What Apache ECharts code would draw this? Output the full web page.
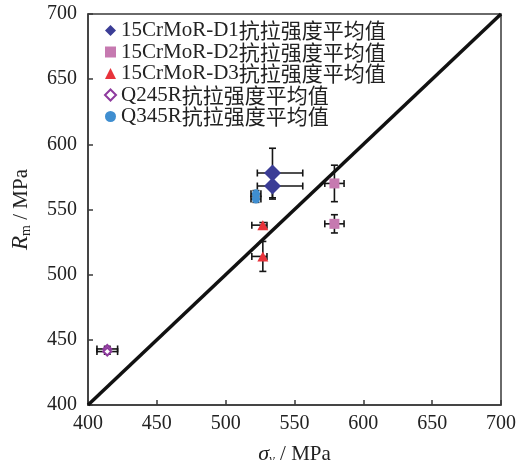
<!DOCTYPE html>
<html>
<head>
<meta charset="utf-8">
<script src="https://cdn.jsdelivr.net/npm/echarts@6/dist/echarts.min.js"></script>
<style>
html,body{margin:0;padding:0;background:#fff;}
#chart{width:518px;height:460px;}
</style>
</head>
<body>
<div id="chart"></div>
<script>
// ---- axis ----
const axisMin = 400, axisMax = 700, axisStep = 50;
const refLine = [[400, 400], [700, 700]];

// ---- series names ----
const names = [
  '15CrMoR-D1抗拉强度平均值',
  '15CrMoR-D2抗拉强度平均值',
  '15CrMoR-D3抗拉强度平均值',
  'Q245R抗拉强度平均值',
  'Q345R抗拉强度平均值'
];

// ---- data: [sigma_y, Rm] ----
const d1Points = [[534, 578], [534, 568]];
const d1XErrLo = [11, 11], d1XErrHi = [22, 22], d1YErrLo = [19, 10], d1YErrHi = [19, 10];

const d2Points = [[579, 570], [579, 539]];
const d2XErrLo = [7, 7], d2XErrHi = [7, 7], d2YErrLo = [14, 7], d2YErrHi = [14, 7];

const d3Points = [[527, 538], [527, 514]];
const d3XErrLo = [8, 8], d3XErrHi = [3, 3], d3YErrLo = [2, 11.5], d3YErrHi = [2, 11.5];

const q245Points = [[414, 443], [414, 441]];
const q245XErrLo = [7.5, 7.5], q245XErrHi = [7.5, 7.5], q245YErrLo = [2, 2], q245YErrHi = [2, 2];

const q345Points = [[522, 562], [522, 558]];
const q345XErrLo = [3.6, 3.6], q345XErrHi = [3.6, 3.6], q345YErrLo = [2.5, 2.5], q345YErrHi = [2.5, 2.5];

const groups = [
  {name: names[0], pts: d1Points, xl: d1XErrLo, xh: d1XErrHi, yl: d1YErrLo, yh: d1YErrHi,
   symbol: 'diamond', size: [17, 17], style: {color: '#3b3d96'}},
  {name: names[1], pts: d2Points, xl: d2XErrLo, xh: d2XErrHi, yl: d2YErrLo, yh: d2YErrHi,
   symbol: 'rect', size: [10, 10], style: {color: '#c679b0'}},
  {name: names[2], pts: d3Points, xl: d3XErrLo, xh: d3XErrHi, yl: d3YErrLo, yh: d3YErrHi,
   symbol: 'triangle', size: [11, 10], style: {color: '#e8333b'}},
  {name: names[3], pts: q245Points, xl: q245XErrLo, xh: q245XErrHi, yl: q245YErrLo, yh: q245YErrHi,
   symbol: 'diamond', size: [8, 8], style: {color: '#ffffff', borderColor: '#8e3a9e', borderWidth: 2}},
  {name: names[4], pts: q345Points, xl: q345XErrLo, xh: q345XErrHi, yl: q345YErrLo, yh: q345YErrHi,
   symbol: 'circle', size: [8, 9], style: {color: '#3f8ed0'}}
];

function errRender(params, api) {
  const x = api.value(0), y = api.value(1);
  const xl = api.value(2), xh = api.value(3), yl = api.value(4), yh = api.value(5);
  const c = api.coord([x, y]);
  const xL = api.coord([x - xl, y])[0];
  const xH = api.coord([x + xh, y])[0];
  const yT = api.coord([x, y + yh])[1];
  const yB = api.coord([x, y - yl])[1];
  const cap = 3.5;
  const st = {stroke: '#151515', lineWidth: 1.6};
  const L = (x1, y1, x2, y2) => ({type: 'line', shape: {x1, y1, x2, y2}, style: st});
  return {
    type: 'group',
    children: [
      L(xL, c[1], xH, c[1]),
      L(xL, c[1] - cap, xL, c[1] + cap),
      L(xH, c[1] - cap, xH, c[1] + cap),
      L(c[0], yT, c[0], yB),
      L(c[0] - cap, yT, c[0] + cap, yT),
      L(c[0] - cap, yB, c[0] + cap, yB)
    ]
  };
}

const series = [{
  type: 'line', name: 'ref', data: refLine, symbol: 'none', silent: true, z: 1,
  lineStyle: {color: '#111', width: 3.5}
}];
groups.forEach(g => {
  series.push({
    type: 'custom', name: g.name + '-err', renderItem: errRender, z: 2, silent: true,
    encode: {x: 0, y: 1},
    data: g.pts.map((p, i) => [p[0], p[1], g.xl[i], g.xh[i], g.yl[i], g.yh[i]])
  });
});
groups.forEach(g => {
  series.push({
    type: 'scatter', name: g.name, data: g.pts, symbol: g.symbol, symbolSize: g.size, z: 3,
    itemStyle: Object.assign({opacity: 1}, g.style)
  });
});

const legendIcons = ['diamond', 'rect', 'triangle', 'diamond', 'circle'];

const axisCommon = {
  type: 'value', min: axisMin, max: axisMax, interval: axisStep,
  splitLine: {show: false},
  axisLine: {show: true, lineStyle: {color: '#3a3a3a', width: 1.5}},
  axisTick: {show: true, inside: true, length: 5, lineStyle: {color: '#3a3a3a', width: 1.5}},
  axisLabel: {fontFamily: 'Liberation Serif', fontSize: 20, color: '#222'},
  nameLocation: 'middle'
};

const chart = echarts.init(document.getElementById('chart'), null, {renderer: 'canvas'});
chart.setOption({
  animation: false,
  backgroundColor: '#ffffff',
  grid: {left: 88, right: 17, top: 14, bottom: 55, outerBoundsMode: 'none', containLabel: false,
         show: true, borderColor: '#3a3a3a', borderWidth: 1.5},
  legend: {
    orient: 'vertical', left: 104, top: 20, padding: 0, itemGap: 0.5,
    itemWidth: 11, itemHeight: 11,
    data: names.map((n, i) => ({name: n, icon: legendIcons[i]})),
    formatter: function (name) {
      const m = name.match(/^([A-Za-z0-9\-]+)(.*)$/);
      return '{a|' + m[1] + '}{b|' + m[2] + '}';
    },
    textStyle: {
      rich: {
        a: {fontFamily: 'Liberation Serif', fontSize: 21, color: '#222', lineHeight: 23},
        b: {fontFamily: 'Noto Sans CJK SC', fontSize: 21, color: '#222', lineHeight: 23}
      }
    }
  },
  xAxis: Object.assign({}, axisCommon, {
    axisLabel: Object.assign({}, axisCommon.axisLabel, {margin: 9}),
    name: '{i|σ}{s|y}{n| / MPa}', nameGap: 38,
    nameTextStyle: {
      rich: {
        i: {fontFamily: 'Liberation Serif', fontStyle: 'italic', fontSize: 22, color: '#222'},
        s: {fontFamily: 'Liberation Serif', fontStyle: 'italic', fontSize: 13, color: '#222', padding: [10, 0, 0, 0]},
        n: {fontFamily: 'Liberation Serif', fontSize: 21, color: '#222'}
      }
    }
  }),
  yAxis: Object.assign({}, axisCommon, {
    axisLabel: Object.assign({}, axisCommon.axisLabel, {margin: 11}),
    name: '{i|R}{s|m}{n| / MPa}', nameGap: 55,
    nameTextStyle: {
      rich: {
        i: {fontFamily: 'Liberation Serif', fontStyle: 'italic', fontSize: 23, color: '#222'},
        s: {fontFamily: 'Liberation Serif', fontSize: 14, color: '#222', padding: [10, 0, 0, 0]},
        n: {fontFamily: 'Liberation Serif', fontSize: 21, color: '#222'}
      }
    }
  }),
  series: series
});
</script>
</body>
</html>
